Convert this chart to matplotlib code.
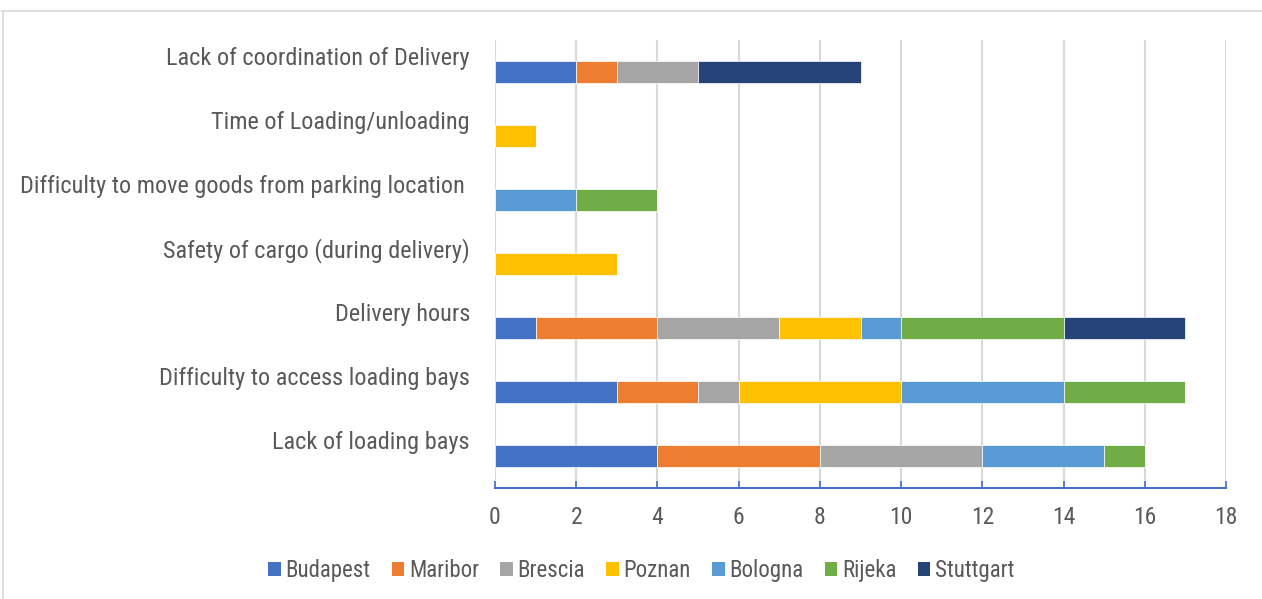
import matplotlib
matplotlib.use("Agg")
import matplotlib.pyplot as plt
from matplotlib import font_manager
from matplotlib.patches import Patch
from matplotlib.lines import Line2D
import numpy as np

# Prefer a narrow sans face; fall back to Liberation Sans at a smaller size
available = {f.name for f in font_manager.fontManager.ttflist}
narrow = next((n for n in ("Liberation Sans Narrow", "Arial Narrow", "Roboto Condensed",
                           "Open Sans Condensed", "DejaVu Sans Condensed") if n in available), None)
if narrow:
    plt.rcParams["font.family"] = [narrow, "DejaVu Sans"]
    label_size, tick_size, legend_size = 17.5, 17, 16.5
else:
    plt.rcParams["font.family"] = ["Liberation Sans", "DejaVu Sans"]
    label_size, tick_size, legend_size = 15.6, 15, 14.3

# Categories listed bottom to top
categories = [
    "Lack of loading bays",
    "Difficulty to access loading bays",
    "Delivery hours",
    "Safety of cargo (during delivery)",
    "Difficulty to move goods from parking location ",
    "Time of Loading/unloading",
    "Lack of coordination of Delivery",
]

cities = ["Budapest", "Maribor", "Brescia", "Poznan", "Bologna", "Rijeka", "Stuttgart"]
colors = ["#4472C4", "#ED7D31", "#A5A5A5", "#FFC000", "#5B9BD5", "#70AD47", "#264478"]

budapest = [4, 3, 1, 0, 0, 0, 2]
maribor = [4, 2, 3, 0, 0, 0, 1]
brescia = [4, 1, 3, 0, 0, 0, 2]
poznan = [0, 4, 2, 3, 0, 1, 0]
bologna = [3, 4, 1, 0, 2, 0, 0]
rijeka = [1, 3, 4, 0, 2, 0, 0]
stuttgart = [0, 0, 3, 0, 0, 0, 4]

series = [budapest, maribor, brescia, poznan, bologna, rijeka, stuttgart]
x_ticks = list(range(0, 19, 2))

text_color = "#595959"
axis_blue = "#4472C4"
grid_gray = "#D9D9D9"

W, H = 1262, 599
fig = plt.figure(figsize=(W / 100, H / 100), dpi=100)
ax = fig.add_axes([495 / W, 111 / H, 731 / W, 448 / H])

y = np.arange(len(categories))
left = np.zeros(len(categories))
for name, vals, col in zip(cities, series, colors):
    vals = np.array(vals, dtype=float)
    ax.barh(y, vals, left=left, height=0.34, color=col,
            edgecolor="white", linewidth=0.5, zorder=3)
    left += vals

ax.set_xlim(0, 18)
ax.set_ylim(-0.5, len(categories) - 0.5)
ax.set_xticks(x_ticks)
ax.set_xticklabels([str(t) for t in x_ticks])
ax.set_yticks([])
ax.grid(axis="x", color=grid_gray, linewidth=1.5, zorder=0)
ax.set_axisbelow(True)

for s in ("top", "right", "left"):
    ax.spines[s].set_visible(False)
ax.spines["bottom"].set_color(axis_blue)
ax.spines["bottom"].set_linewidth(1.5)
ax.tick_params(axis="x", direction="in", length=5, width=1.2, color=axis_blue,
               labelcolor=text_color, labelsize=tick_size, pad=13)

for i, cat in enumerate(categories):
    ax.annotate(cat, xy=(0, i), xycoords=("axes fraction", "data"),
                xytext=(-25, 7), textcoords="offset pixels",
                ha="right", va="baseline", fontsize=label_size, color=text_color)

# chart frame
fig.add_artist(Line2D([2 / W, 1], [1 - 11 / H, 1 - 11 / H], transform=fig.transFigure,
                      color=grid_gray, linewidth=1.2))
fig.add_artist(Line2D([2.5 / W, 2.5 / W], [0, 1 - 11 / H], transform=fig.transFigure,
                      color=grid_gray, linewidth=1.2))

handles = [Patch(facecolor=c, edgecolor="none") for c in colors]
fig.legend(handles, cities, loc="center", bbox_to_anchor=(0.508, 0.048), ncol=7,
           frameon=False, handlelength=0.55, handleheight=0.55, handletextpad=0.2,
           columnspacing=0.93, fontsize=legend_size, labelcolor=text_color)

fig.savefig("out.png", dpi=100, facecolor="white")
